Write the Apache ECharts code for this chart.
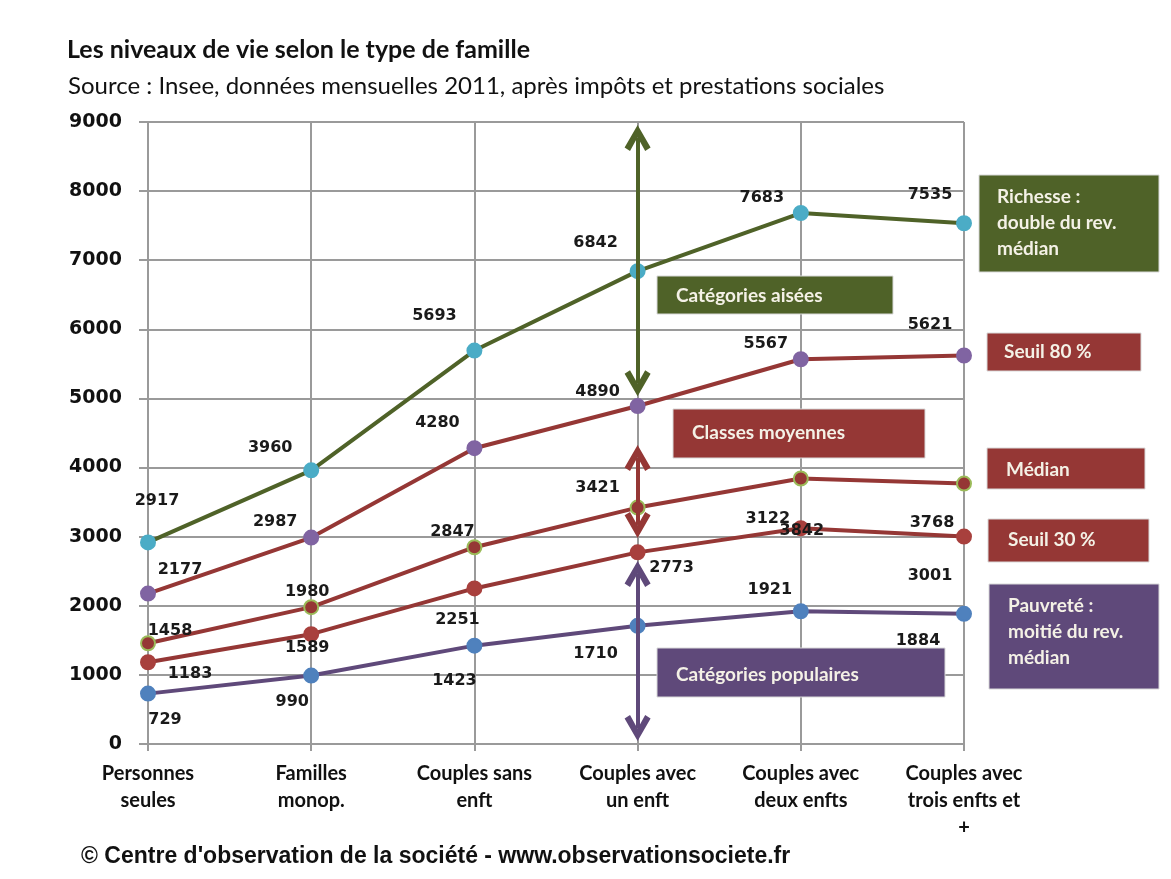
<!DOCTYPE html>
<html>
<head>
<meta charset="utf-8">
<script src="https://cdn.jsdelivr.net/npm/echarts@6/dist/echarts.min.js"></script>
<style>
  html, body { margin: 0; padding: 0; background: #fff; }
  #chart { width: 1171px; height: 879px; }
</style>
</head>
<body>
<div id="chart"></div>
<script>
// catégories (axe x)
var categories = ['Personnes\nseules', 'Familles\nmonop.', 'Couples sans\nenft', 'Couples avec\nun enft', 'Couples avec\ndeux enfts', 'Couples avec\ntrois enfts et\n+'];
var yTicks = [0, 9000, 1000];

// séries
var richesse = [2917, 3960, 5693, 6842, 7683, 7535];
var seuil80 = [2177, 2987, 4280, 4890, 5567, 5621];
var median = [1458, 1980, 2847, 3421, 3842, 3768];
var seuil30 = [1183, 1589, 2251, 2773, 3122, 3001];
var pauvrete = [729, 990, 1423, 1710, 1921, 1884];

// décalage des étiquettes (px)
var offRichesse = [[9, -42], [-41, -22], [-40, -35], [-42, -28], [-39, -15], [-34, -28]];
var offSeuil80 = [[32, -24], [-36, -16], [-37, -25], [-40, -14], [-35, -15], [-34, -31]];
var offMedian = [[22, -12], [-4, -15], [-22, -15], [-40, -20], [1, 52], [-32, 39]];
var offSeuil30 = [[42, 12], [-4, 14], [-17, 31], [34, 15], [-33, -9], [-34, 39]];
var offPauvrete = [[17, 26], [-19, 26], [-20, 35], [-42, 28], [-31, -21], [-46, 27]];

// flèches verticales sur "Couples avec un enft" : [bas, haut]
var arrowAisees = [5220, 8770];
var arrowMoyennes = [3170, 4140];
var arrowPopulaires = [230, 2460];

var GREEN = '#4f6228', RED = '#953735', PURPLE = '#5f497a';
var chevron = 'path://M0,0 L12,20 L7,23 L0,11 L-7,23 L-12,20 Z';

var myChart = echarts.init(document.getElementById('chart'));

function makeData(values, offsets) {
    var res = [];
    for (var i = 0; i < values.length; i++) {
        res.push({ value: values[i], label: { offset: offsets[i] } });
    }
    return res;
}

function arrow(range, color) {
    return {
        silent: true,
        animation: false,
        symbol: [chevron, chevron],
        symbolSize: 26,
        label: { show: false },
        lineStyle: { color: color, width: 4, type: 'solid' },
        data: [[{ coord: [3, range[0]] }, { coord: [3, range[1]] }]]
    };
}

function lineSeries(name, values, offsets, lineColor, markerColor, borderColor, mark) {
    var s = {
        name: name,
        type: 'line',
        data: makeData(values, offsets),
        symbol: 'circle',
        symbolSize: 14,
        lineStyle: { color: lineColor, width: 4 },
        itemStyle: { color: markerColor, borderColor: borderColor || markerColor, borderWidth: 2 },
        label: {
            show: true,
            position: 'inside',
            color: '#1a1a1a',
            fontFamily: 'DejaVu Sans',
            fontWeight: 'bold',
            fontSize: 16
        },
        emphasis: { disabled: true }
    };
    if (mark) s.markLine = mark;
    return s;
}

var boxes = [
    { x: 657, y: 276, w: 236, h: 38, color: GREEN, tx: 676, ty: 296, text: 'Catégories aisées' },
    { x: 673, y: 409, w: 252, h: 49, color: RED, tx: 692, ty: 433, text: 'Classes moyennes' },
    { x: 657, y: 648, w: 288, h: 49, color: PURPLE, tx: 676, ty: 675, text: 'Catégories populaires' },
    { x: 979, y: 175, w: 180, h: 97, color: GREEN, tx: 997, ty: 223, text: 'Richesse :\ndouble du rev.\nmédian' },
    { x: 987, y: 333, w: 154, h: 38, color: RED, tx: 1004, ty: 352, text: 'Seuil 80 %' },
    { x: 987, y: 448, w: 158, h: 41, color: RED, tx: 1006, ty: 470, text: 'Médian' },
    { x: 988, y: 519, w: 161, h: 43, color: RED, tx: 1008, ty: 540, text: 'Seuil 30 %' },
    { x: 989, y: 584, w: 170, h: 105, color: PURPLE, tx: 1008, ty: 632, text: 'Pauvreté :\nmoitié du rev.\nmédian' }
];

var graphics = [];
boxes.forEach(function (b) {
    graphics.push({
        type: 'rect', z: 100,
        shape: { x: b.x, y: b.y, width: b.w, height: b.h },
        style: { fill: b.color, stroke: '#d9d9d9', lineWidth: 1 }
    });
    graphics.push({
        type: 'text', z: 101, x: b.tx, y: b.ty,
        style: {
            text: b.text, fill: '#f4f1e6', font: 'bold 19px Lato',
            lineHeight: 26, verticalAlign: 'middle', align: 'left'
        }
    });
});

option = {
    backgroundColor: '#fff',
    animation: false,
    title: [
        {
            text: 'Les niveaux de vie selon le type de famille',
            left: 62, top: 32,
            textStyle: { fontFamily: 'Lato', fontWeight: 'bold', fontSize: 25, color: '#111' }
        },
        {
            text: 'Source : Insee, données mensuelles 2011, après impôts et prestations sociales',
            left: 63, top: 69,
            textStyle: { fontFamily: 'Lato', fontWeight: 'normal', fontSize: 24, color: '#111' }
        },
        {
            text: '© Centre d\'observation de la société - www.observationsociete.fr',
            left: 76, top: 840,
            textStyle: { fontFamily: 'Liberation Sans', fontWeight: 'bold', fontSize: 23, color: '#111' }
        }
    ],
    grid: { left: 148, right: 207, top: 122, bottom: 135 },
    xAxis: {
        type: 'category',
        data: categories,
        boundaryGap: false,
        axisLine: { lineStyle: { color: '#9a9a9a', width: 2 } },
        axisTick: { show: true, length: 7, lineStyle: { color: '#9a9a9a', width: 2 } },
        splitLine: { show: true, lineStyle: { color: '#9a9a9a', width: 2 } },
        axisLabel: {
            interval: 0, margin: 16,
            color: '#111', fontFamily: 'Lato', fontWeight: 'bold', fontSize: 20, lineHeight: 27
        }
    },
    yAxis: {
        type: 'value',
        min: yTicks[0], max: yTicks[1], interval: yTicks[2],
        axisLine: { show: true, lineStyle: { color: '#9a9a9a', width: 2 } },
        axisTick: { show: true, length: 9, lineStyle: { color: '#9a9a9a', width: 2 } },
        splitLine: { show: true, lineStyle: { color: '#9a9a9a', width: 2 } },
        axisLabel: {
            margin: 26,
            formatter: function (v) { return String(v); },
            color: '#111', fontFamily: 'DejaVu Sans', fontWeight: 'bold', fontSize: 19
        }
    },
    series: [
        lineSeries('Pauvreté', pauvrete, offPauvrete, PURPLE, '#4f81bd', null, arrow(arrowPopulaires, PURPLE)),
        lineSeries('Seuil 30 %', seuil30, offSeuil30, RED, '#a8403d', null, null),
        lineSeries('Médian', median, offMedian, RED, RED, '#9bbb59', arrow(arrowMoyennes, RED)),
        lineSeries('Seuil 80 %', seuil80, offSeuil80, RED, '#8064a2', null, null),
        lineSeries('Richesse', richesse, offRichesse, GREEN, '#4bacc6', null, arrow(arrowAisees, GREEN))
    ],
    graphic: graphics
};
myChart.setOption(option);
</script>
</body>
</html>
